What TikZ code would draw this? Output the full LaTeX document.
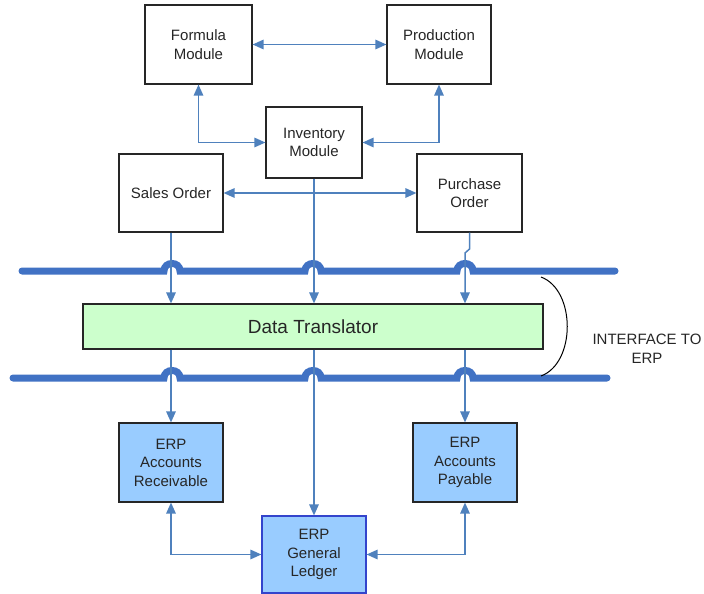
\documentclass[tikz,border=0pt]{standalone}
\usepackage{fontspec}
\setmainfont{Liberation Sans}
\usetikzlibrary{arrows.meta}
\definecolor{connc}{HTML}{4F81BD}
\definecolor{busc}{HTML}{4172C4}
\definecolor{erpfill}{HTML}{99CCFF}
\definecolor{gfill}{HTML}{CCFFCC}
\definecolor{glborder}{HTML}{3344CC}
\begin{document}
\begin{tikzpicture}[x=1pt,y=-1pt,
  box/.style={draw=black!85, line width=1.2pt, fill=white, align=center, inner sep=0pt,
    font=\fontsize{15}{18.5}\selectfont, text=black!85},
  erpbox/.style={box, fill=erpfill},
  link/.style={draw=connc, line width=1.5pt, -{Triangle[length=11pt,width=9.5pt]}},
  both/.style={draw=connc, line width=1.5pt, {Triangle[length=11pt,width=9.5pt]}-{Triangle[length=11pt,width=9.5pt]}},
  bus/.style={draw=busc, line width=7pt, line cap=round},
]
\useasboundingbox (0,0) rectangle (704,594);

% buses
\draw[bus] (22,271) -- (164,271) .. controls (164,261) and (180,261) .. (180,271)
  -- (305,271) .. controls (305,261) and (321,261) .. (321,271)
  -- (457,271) .. controls (457,261) and (473,261) .. (473,271) -- (615,271);
\draw[bus] (13,378) -- (164,378) .. controls (164,368) and (180,368) .. (180,378)
  -- (305,378) .. controls (305,368) and (321,368) .. (321,378)
  -- (457,378) .. controls (457,368) and (473,368) .. (473,378) -- (607,378);

% nodes
\node[box, minimum width=107pt, minimum height=79pt] (formula) at (198.5,44.5) {Formula\\Module};
\node[box, minimum width=104pt, minimum height=79pt] (production) at (439,44.5) {Production\\Module};
\node[box, minimum width=96pt, minimum height=71pt] (inventory) at (314,142.5) {Inventory\\Module};
\node[box, minimum width=104pt, minimum height=78pt] (sales) at (171,193) {Sales Order};
\node[box, minimum width=105pt, minimum height=78pt] (purchase) at (469.5,193) {Purchase\\Order};
\node[box, fill=gfill, minimum width=460pt, minimum height=45pt, font=\fontsize{19}{22}\selectfont] (translator) at (313,326.5) {Data Translator};
\node[erpbox, minimum width=104pt, minimum height=79pt] (ar) at (171,462.5) {ERP\\Accounts\\Receivable};
\node[erpbox, minimum width=104pt, minimum height=79pt] (ap) at (465,462.5) {ERP\\Accounts\\Payable};
\node[erpbox, draw=glborder, minimum width=104pt, minimum height=77pt] (gl) at (314,554.5) {ERP\\General\\Ledger};
\node[align=center, font=\fontsize{15}{18.5}\selectfont, text=black!85] (iface) at (647,349) {INTERFACE TO\\ERP};

% brace
\draw[black, line width=1pt] (541,277) .. controls (576,290) and (576,363) .. (541,376);

% connectors
\draw[both] (formula) -- (production);
\draw[both] (formula.south) |- (inventory.west);
\draw[both] (production.south) |- (inventory.east);
\draw[both] (sales) -- (purchase);

\draw[link] (sales.south) -- (sales.south |- translator.north);
\draw[link] (inventory.south) -- (inventory.south |- translator.north);
\coordinate (pj1) at (469.5,249);
\coordinate (pj2) at (465,253);
\draw[link] (purchase.south) -- (pj1) -- (pj2) -- (pj2 |- translator.north);

\draw[link] (translator.south -| ar.north) -- (ar.north);
\draw[link] (translator.south -| gl.north) -- (gl.north);
\draw[link] (translator.south -| ap.north) -- (ap.north);

\draw[both] (ar.south) |- (gl.west);
\draw[both] (ap.south) |- (gl.east);
\end{tikzpicture}
\end{document}
